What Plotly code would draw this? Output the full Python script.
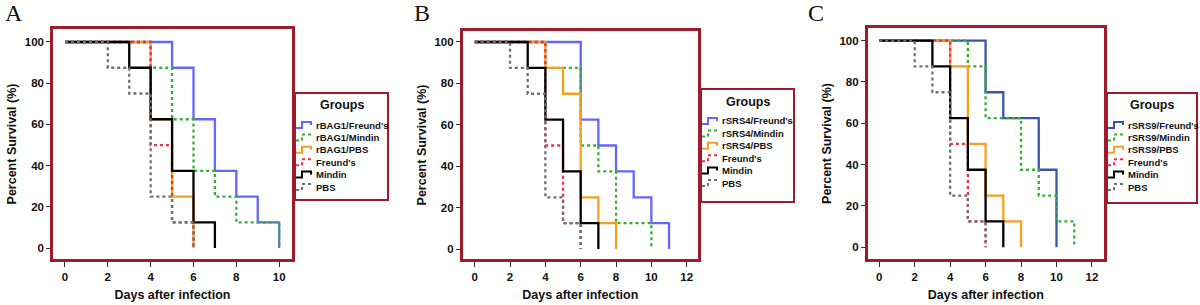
import plotly.graph_objects as go

W, H = 1200, 305

# ---------------- data (Kaplan-Meier step points: day, % survival) ----------------
groups_A = ["rBAG1/Freund's", "rBAG1/Mindin", "rBAG1/PBS", "Freund's", "Mindin", "PBS"]
groups_B = ["rSRS4/Freund's", "rSRS4/Mindin", "rSRS4/PBS", "Freund's", "Mindin", "PBS"]
groups_C = ["rSRS9/Freund's", "rSRS9/Mindin", "rSRS9/PBS", "Freund's", "Mindin", "PBS"]

A_vacc_freund_days = [0, 5, 6, 7, 8, 9, 10]
A_vacc_freund_surv = [100, 87.5, 62.5, 37.5, 25, 12.5, 0]
A_vacc_mindin_days = [0, 4, 5, 6, 7, 8, 10]
A_vacc_mindin_surv = [100, 87.5, 62.5, 37.5, 25, 12.5, 0]
A_vacc_pbs_days = [0, 4, 5, 6]
A_vacc_pbs_surv = [100, 62.5, 25, 0]

B_vacc_freund_days = [0, 6, 7, 8, 9, 10, 11]
B_vacc_freund_surv = [100, 62.5, 50, 37.5, 25, 12.5, 0]
B_vacc_mindin_days = [0, 4, 6, 7, 8, 10]
B_vacc_mindin_surv = [100, 87.5, 50, 37.5, 12.5, 0]
B_vacc_pbs_days = [0, 4, 5, 6, 7, 8]
B_vacc_pbs_surv = [100, 87.5, 75, 25, 12.5, 0]

C_vacc_freund_days = [0, 6, 7, 9, 10]
C_vacc_freund_surv = [100, 75, 62.5, 37.5, 0]
C_vacc_mindin_days = [0, 5, 6, 8, 9, 10, 11]
C_vacc_mindin_surv = [100, 87.5, 62.5, 37.5, 25, 12.5, 0]
C_vacc_pbs_days = [0, 4, 5, 6, 7, 8]
C_vacc_pbs_surv = [100, 87.5, 50, 25, 12.5, 0]

freund_days = [0, 4, 5, 6]
freund_surv = [100, 50, 12.5, 0]
mindin_days = [0, 3, 4, 5, 6, 7]
mindin_surv = [100, 87.5, 62.5, 37.5, 12.5, 0]
pbs_days = [0, 2, 3, 4, 5, 6]
pbs_surv = [100, 87.5, 75, 25, 12.5, 0]

x_ticks_A = [0, 2, 4, 6, 8, 10]
x_ticks_BC = [0, 2, 4, 6, 8, 10, 12]
y_ticks = [0, 20, 40, 60, 80, 100]
panel_labels = ["A", "B", "C"]
x_title = "Days after infection"
y_title = "Percent Survival (%)"
legend_title = "Groups"

# ---------------- styles ----------------
FRAME = "#a01c2c"
BLUE_AB = "#6666ff"
BLUE_C = "#3a55b0"
GREEN = "#33b033"
ORANGE = "#f5a020"
RED = "#e8304c"
BLACK = "#000000"
GRAY = "#707070"
FONT = "Liberation Sans, Arial, sans-serif"

def styles(blue):
    return [(blue, "solid"), (GREEN, "dot"), (ORANGE, "solid"),
            (RED, "dot"), (BLACK, "solid"), (GRAY, "dot")]

panels = [
    dict(groups=groups_A,
         series=[(A_vacc_freund_days, A_vacc_freund_surv), (A_vacc_mindin_days, A_vacc_mindin_surv),
                 (A_vacc_pbs_days, A_vacc_pbs_surv), (freund_days, freund_surv),
                 (mindin_days, mindin_surv), (pbs_days, pbs_surv)],
         style=styles(BLUE_AB), xticks=x_ticks_A,
         frame=(53, 292, 29, 259), xr=[-0.56, 10.6], yr=[-5.3, 106.3],
         legend=(295, 388, 93, 200), label_x=3),
    dict(groups=groups_B,
         series=[(B_vacc_freund_days, B_vacc_freund_surv), (B_vacc_mindin_days, B_vacc_mindin_surv),
                 (B_vacc_pbs_days, B_vacc_pbs_surv), (freund_days, freund_surv),
                 (mindin_days, mindin_surv), (pbs_days, pbs_surv)],
         style=styles(BLUE_AB), xticks=x_ticks_BC,
         frame=(462.7, 698, 31, 259), xr=[-0.68, 12.64], yr=[-4.8, 105.3],
         legend=(701, 794, 89, 202), label_x=412),
    dict(groups=groups_C,
         series=[(C_vacc_freund_days, C_vacc_freund_surv), (C_vacc_mindin_days, C_vacc_mindin_surv),
                 (C_vacc_pbs_days, C_vacc_pbs_surv), (freund_days, freund_surv),
                 (mindin_days, mindin_surv), (pbs_days, pbs_surv)],
         style=styles(BLUE_C), xticks=x_ticks_BC,
         frame=(867.7, 1104, 28, 259), xr=[-0.65, 12.68], yr=[-5.7, 106.1],
         legend=(1107, 1197, 93, 203), label_x=806),
]

def px(x):
    return x / W

def py(y):
    return 1 - y / H

fig = go.Figure()
shapes = []
annotations = []
layout = {}

for i, p in enumerate(panels):
    n = "" if i == 0 else str(i + 1)
    xa, ya = "x" + n, "y" + n
    for (days, surv), name, (col, dash) in zip(p["series"], p["groups"], p["style"]):
        fig.add_trace(go.Scatter(
            x=days, y=surv, mode="lines", name=name, showlegend=False,
            line=dict(shape="hv", color=col, width=2.3, dash=dash),
            xaxis=xa, yaxis=ya))
    l, r, t, b = p["frame"]
    layout["xaxis" + n] = dict(
        domain=[px(l), px(r)], range=p["xr"], anchor=ya,
        tickvals=p["xticks"], ticks="outside", ticklen=5, tickwidth=1, tickcolor="#333",
        showline=True, mirror=True, linecolor=FRAME, linewidth=2.5,
        showgrid=False, zeroline=False,
        tickfont=dict(family=FONT, size=11.5, color="#111", weight="bold"),
        title=dict(text="<b>" + x_title + "</b>", standoff=9,
                   font=dict(family=FONT, size=12.5, color="#111")))
    layout["yaxis" + n] = dict(
        domain=[py(b), py(t)], range=p["yr"], anchor=xa,
        tickvals=y_ticks, ticks="outside", ticklen=4, tickwidth=1, tickcolor="#333",
        showline=True, mirror=True, linecolor=FRAME, linewidth=2.5,
        showgrid=False, zeroline=False,
        tickfont=dict(family=FONT, size=11.5, color="#111", weight="bold"),
        title=dict(text="<b>" + y_title + "</b>", standoff=6,
                   font=dict(family=FONT, size=12.5, color="#111")))

    # panel letter
    annotations.append(dict(text=panel_labels[i], xref="paper", yref="paper",
                            x=px(p["label_x"]), y=py(-2), xanchor="left", yanchor="top",
                            showarrow=False,
                            font=dict(family="Liberation Serif, Times New Roman, serif",
                                      size=24, color="#111")))

    # custom legend box
    L, R, T, B = p["legend"]
    shapes.append(dict(type="rect", xref="paper", yref="paper",
                       x0=px(L), x1=px(R), y0=py(B), y1=py(T),
                       line=dict(color=FRAME, width=2), fillcolor="white"))
    annotations.append(dict(text="<b>" + legend_title + "</b>", xref="paper", yref="paper",
                            x=px((L + R) / 2), y=py(T + 12.5), xanchor="center", yanchor="middle",
                            showarrow=False, font=dict(family=FONT, size=12.5, color="#111")))
    for k, (name, (col, dash)) in enumerate(zip(p["groups"], p["style"])):
        yc = T + 32 + 12.4 * k
        x0, x1, x2 = L + 1, L + 7, L + 18
        ylo, yhi = yc + 3, yc - 3
        path = "M {} {} L {} {} L {} {} L {} {} L {} {}".format(
            px(x0), py(ylo), px(x1), py(ylo), px(x1), py(yhi),
            px(x2 - 2), py(yhi), px(x2 - 2), py(yc))
        shapes.append(dict(type="path", xref="paper", yref="paper", path=path,
                           line=dict(color=col, width=2, dash=dash)))
        annotations.append(dict(text="<b>" + name + "</b>", xref="paper", yref="paper",
                                x=px(L + 19), y=py(yc), xanchor="left", yanchor="middle",
                                showarrow=False,
                                font=dict(family=FONT, size=9.5, color="#111")))

fig.update_layout(
    width=W, height=H, margin=dict(l=0, r=0, t=0, b=0),
    paper_bgcolor="white", plot_bgcolor="white",
    showlegend=False, shapes=shapes, annotations=annotations, **layout)

fig.write_html("out.html", config={"displayModeBar": False},
               post_script="document.body.style.margin='0';document.body.style.overflow='hidden';")
